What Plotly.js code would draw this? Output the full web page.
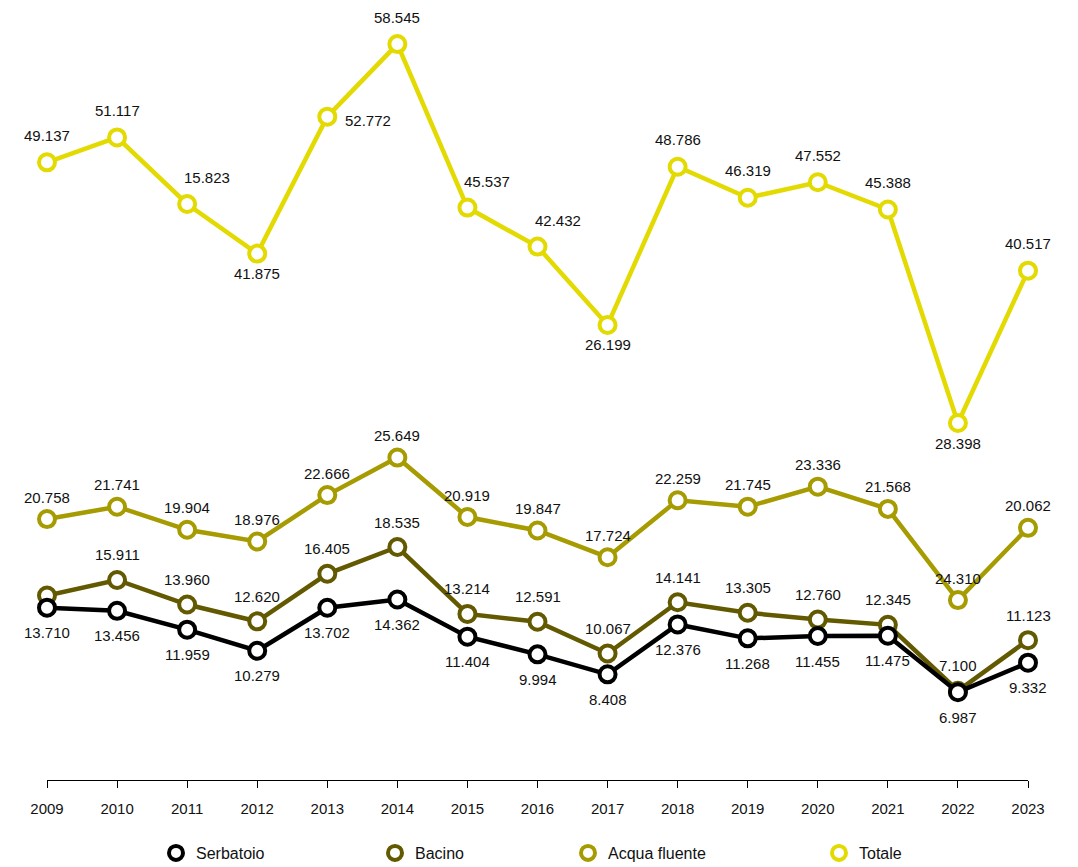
<!DOCTYPE html>
<html>
<head>
<meta charset="utf-8">
<script src="https://cdn.plot.ly/plotly-3.0.1.min.js"></script>
<style>html,body{margin:0;padding:0;background:#fff;}#chart{width:1078px;height:867px;}</style>
</head>
<body>
<div id="chart"></div>
<script>
var years = [2009, 2010, 2011, 2012, 2013, 2014, 2015, 2016, 2017, 2018, 2019, 2020, 2021, 2022, 2023];

var serbatoio = [13.710, 13.456, 11.959, 10.279, 13.702, 14.362, 11.404, 9.994, 8.408, 12.376, 11.268, 11.455, 11.475, 6.987, 9.332];
var bacino = [14.669, 15.911, 13.960, 12.620, 16.405, 18.535, 13.214, 12.591, 10.067, 14.141, 13.305, 12.760, 12.345, 7.100, 11.123];
var acquaFluente = [20.758, 21.741, 19.904, 18.976, 22.666, 25.649, 20.919, 19.847, 17.724, 22.259, 21.745, 23.336, 21.568, 14.311, 20.062];
var totale = [49.137, 51.117, 45.823, 41.875, 52.772, 58.545, 45.537, 42.432, 36.199, 48.786, 46.319, 47.552, 45.388, 28.398, 40.517];

var serbatoioLabels = ["13.710", "13.456", "11.959", "10.279", "13.702", "14.362", "11.404", "9.994", "8.408", "12.376", "11.268", "11.455", "11.475", "6.987", "9.332"];
var bacinoLabels = ["", "15.911", "13.960", "12.620", "16.405", "18.535", "13.214", "12.591", "10.067", "14.141", "13.305", "12.760", "12.345", "7.100", "11.123"];
var acquaFluenteLabels = ["20.758", "21.741", "19.904", "18.976", "22.666", "25.649", "20.919", "19.847", "17.724", "22.259", "21.745", "23.336", "21.568", "24.310", "20.062"];
var totaleLabels = ["49.137", "51.117", "15.823", "41.875", "52.772", "58.545", "45.537", "42.432", "26.199", "48.786", "46.319", "47.552", "45.388", "28.398", "40.517"];

var seriesNames = ["Serbatoio", "Bacino", "Acqua fluente", "Totale"];

// label placement (layout only)
var serbatoioPos = ["b","b","b","b","b","b","b","b","b","b","b","b","b","b","b"];
var bacinoPos = ["t","t","t","t","t","t","t","t","t","t","t","t","t","t","t"];
var acquaFluentePos = ["t","t","t","t","t","t","t","t","t","t","t","t","t","t","t"];
var totalePos = ["t","t","tr","b","r","t","tr","tr","b","t","t","t","t","b","t"];
// per-series vertical offsets in px: [above, below]
var labelGap = [[23, -25], [25, -25], [22, -25], [27, -20]];

var colors = ["#000000", "#625900", "#a69b00", "#e2da00"];
var FONT = "Liberation Sans, Arial, Helvetica, sans-serif";

var seriesVals = [serbatoio, bacino, acquaFluente, totale];
var seriesLabels = [serbatoioLabels, bacinoLabels, acquaFluenteLabels, totaleLabels];
var seriesPos = [serbatoioPos, bacinoPos, acquaFluentePos, totalePos];

var traces = [];
// draw order: Totale first, Serbatoio last (on top)
for (var s = 3; s >= 0; s--) {
  traces.push({
    x: years, y: seriesVals[s], type: "scatter", mode: "lines+markers",
    name: seriesNames[s], showlegend: false, cliponaxis: false, hoverinfo: "x+y",
    line: {color: colors[s], width: 4.5},
    marker: {symbol: "circle", size: 16, color: "#ffffff", line: {color: colors[s], width: 4}}
  });
}
var legendIds = ["legend", "legend2", "legend3", "legend4"];
for (var s = 0; s < 4; s++) {
  traces.push({
    x: [null], y: [null], type: "scatter", mode: "markers", name: seriesNames[s],
    legend: legendIds[s], showlegend: true,
    marker: {symbol: "circle", size: 14, color: "#ffffff", line: {color: colors[s], width: 4}}
  });
}

var annotations = [];
for (var s = 0; s < 4; s++) {
  for (var i = 0; i < years.length; i++) {
    var t = seriesLabels[s][i];
    if (!t) continue;
    var p = seriesPos[s][i];
    var a = {x: years[i], y: seriesVals[s][i], xref: "x", yref: "y", text: t, showarrow: false,
      font: {family: FONT, size: 15, color: "#111111"}, xanchor: "center", yanchor: "middle", xshift: 0, yshift: 0};
    if (p === "t") { a.yshift = labelGap[s][0]; }
    else if (p === "b") { a.yshift = labelGap[s][1]; }
    else if (p === "tr") { a.yshift = labelGap[s][0] - 1; a.xshift = 20; }
    else if (p === "r") { a.xanchor = "left"; a.xshift = 16; a.yshift = -4; }
    annotations.push(a);
  }
}

var legendX = [156, 375, 568, 819];
var layout = {
  width: 1078, height: 867,
  paper_bgcolor: "#ffffff", plot_bgcolor: "#ffffff",
  margin: {l: 47, r: 50, t: 20, b: 87},
  font: {family: FONT, size: 15, color: "#111111"},
  xaxis: {
    range: [2009, 2023], tickvals: years, ticktext: years.map(String),
    showgrid: false, zeroline: false, showline: true, linecolor: "#000000", linewidth: 1.3,
    ticks: "outside", ticklen: 7, tickwidth: 1.3, tickcolor: "#000000",
    tickfont: {family: FONT, size: 15, color: "#111111"}, ticklabelstandoff: 8
  },
  yaxis: {range: [0, 60.46], visible: false, showgrid: false, zeroline: false, fixedrange: true},
  annotations: annotations,
  hovermode: "closest"
};
for (var s = 0; s < 4; s++) {
  layout[legendIds[s]] = {
    orientation: "h", xref: "container", yref: "container",
    x: legendX[s] / 1078, y: 1 - 853 / 867, xanchor: "left", yanchor: "middle",
    bgcolor: "rgba(0,0,0,0)", borderwidth: 0,
    font: {family: FONT, size: 16, color: "#111111"}
  };
}

Plotly.newPlot("chart", traces, layout, {displayModeBar: false, staticPlot: false});
</script>
</body>
</html>
